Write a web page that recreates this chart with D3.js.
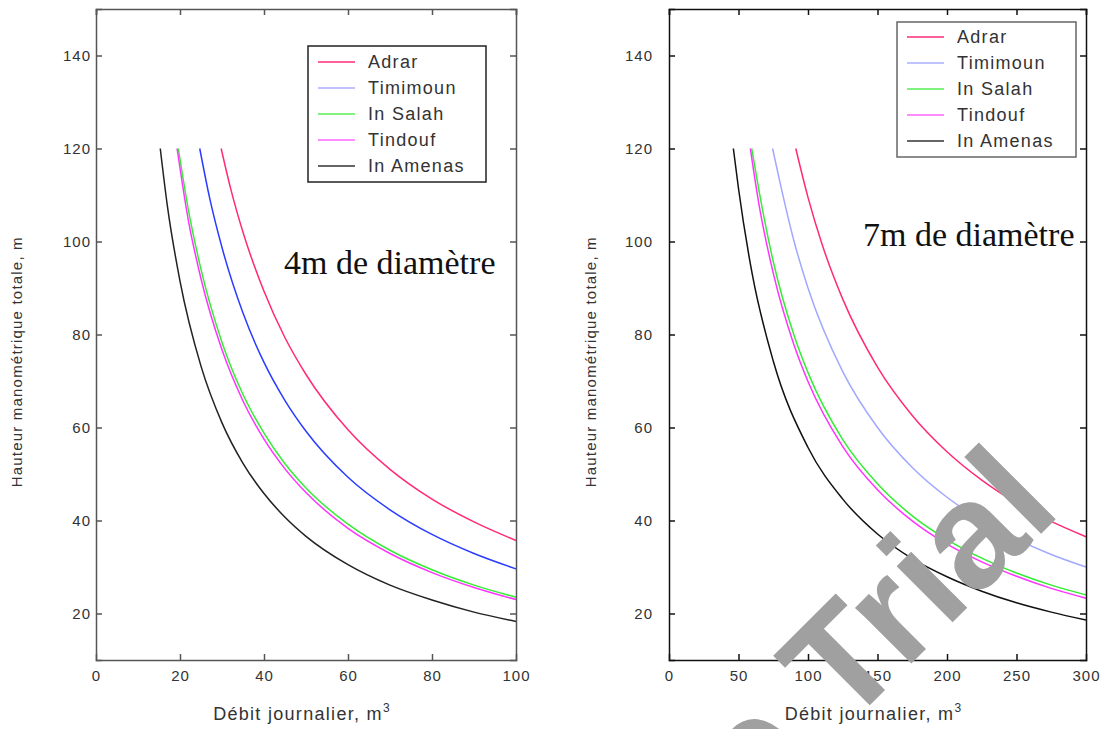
<!DOCTYPE html>
<html><head><meta charset="utf-8">
<script src="https://cdn.jsdelivr.net/npm/d3@7"></script>
<style>body{margin:0;background:#fff}svg{display:block}</style>
</head><body><svg id="c" width="1105" height="729"></svg>
<script>
// ---------- data ----------
const seriesNames = ["Adrar", "Timimoun", "In Salah", "Tindouf", "In Amenas"];
const xTicksLeft = [0, 20, 40, 60, 80, 100];
const xTicksRight = [0, 50, 100, 150, 200, 250, 300];
const yTicks = [20, 40, 60, 80, 100, 120, 140];
const labelLeft = "4m de diamètre";
const labelRight = "7m de diamètre";

// 4 m diameter panel: daily flow (m3) and total head (m)
const q4Adrar    = [29.8, 32, 35, 40, 45, 50, 60, 70, 80, 90, 100];
const h4Adrar    = [120, 111.6, 102.0, 89.3, 79.3, 71.4, 59.5, 51.0, 44.6, 39.7, 35.7];
const q4Timimoun = [24.7, 27, 30, 35, 40, 45, 50, 60, 70, 80, 90, 100];
const h4Timimoun = [120, 109.6, 98.7, 84.6, 74.0, 65.8, 59.2, 49.3, 42.3, 37.0, 32.9, 29.6];
const q4InSalah  = [19.6, 22, 25, 30, 35, 40, 45, 50, 60, 70, 80, 90, 100];
const h4InSalah  = [120, 106.8, 94.0, 78.3, 67.1, 58.8, 52.2, 47.0, 39.2, 33.6, 29.4, 26.1, 23.5];
const q4Tindouf  = [19.3, 22, 25, 30, 35, 40, 45, 50, 60, 70, 80, 90, 100];
const h4Tindouf  = [120, 104.5, 92.0, 76.7, 65.7, 57.5, 51.1, 46.0, 38.3, 32.9, 28.8, 25.6, 23.0];
const q4InAmenas = [15.3, 17, 20, 25, 30, 35, 40, 45, 50, 60, 70, 80, 90, 100];
const h4InAmenas = [120, 107.6, 91.5, 73.2, 61.0, 52.3, 45.8, 40.7, 36.6, 30.5, 26.1, 22.9, 20.3, 18.3];

// 7 m diameter panel
const q7Adrar    = [91.2, 100, 110, 125, 150, 175, 200, 225, 250, 275, 300];
const h7Adrar    = [120, 109.5, 99.5, 87.6, 73.0, 62.6, 54.8, 48.7, 43.8, 39.8, 36.5];
const q7Timimoun = [74.5, 80, 90, 100, 125, 150, 175, 200, 225, 250, 275, 300];
const h7Timimoun = [120, 112.5, 100.0, 90.0, 72.0, 60.0, 51.4, 45.0, 40.0, 36.0, 32.7, 30.0];
const q7InSalah  = [59.5, 65, 75, 90, 100, 125, 150, 175, 200, 225, 250, 275, 300];
const h7InSalah  = [120, 110.5, 95.7, 79.8, 71.8, 57.4, 47.9, 41.0, 35.9, 31.9, 28.7, 26.1, 24.0];
const q7Tindouf  = [58.5, 65, 75, 90, 100, 125, 150, 175, 200, 225, 250, 275, 300];
const h7Tindouf  = [120, 107.5, 93.2, 77.7, 69.9, 55.9, 46.6, 39.9, 34.9, 31.1, 28.0, 25.4, 23.3];
const q7InAmenas = [46.3, 50, 60, 75, 100, 125, 150, 175, 200, 225, 250, 275, 300];
const h7InAmenas = [120, 111.4, 92.8, 74.3, 55.7, 44.6, 37.1, 31.8, 27.9, 24.8, 22.3, 20.3, 18.6];

// ---------- drawing ----------
const svg = d3.select("#c");
const sansFont = "'Liberation Sans', Arial, sans-serif";
const legendColors = ["#ff2a78", "#aab0ff", "#55ee55", "#ff66ff", "#333333"];

const panels = [
  { x0: 96, x1: 516, xmax: 100, xTicks: xTicksLeft, axisColor: "#555", labelGap: 5,
    legend: { x: 308, y: 46, w: 178, h: 136, first: 16, border: "#222" },
    note: { text: labelLeft, x: 284, y: 274 },
    ytitleX: 22,
    colors: ["#ff2a78", "#2a3cff", "#33ee33", "#ff33ff", "#222222"],
    q: [q4Adrar, q4Timimoun, q4InSalah, q4Tindouf, q4InAmenas],
    h: [h4Adrar, h4Timimoun, h4InSalah, h4Tindouf, h4InAmenas] },
  { x0: 669, x1: 1086, xmax: 300, xTicks: xTicksRight, axisColor: "#111", labelGap: 16,
    legend: { x: 897, y: 22, w: 179, h: 135, first: 15, border: "#666" },
    note: { text: labelRight, x: 863, y: 246 },
    ytitleX: 596,
    colors: ["#ff2a78", "#a0a8ff", "#33ee33", "#ff33ff", "#111111"],
    q: [q7Adrar, q7Timimoun, q7InSalah, q7Tindouf, q7InAmenas],
    h: [h7Adrar, h7Timimoun, h7InSalah, h7Tindouf, h7InAmenas] }
];

const yTop = 9, yBot = 660;

panels.forEach(p => {
  const x = d3.scaleLinear().domain([0, p.xmax]).range([p.x0, p.x1]);
  const y = d3.scaleLinear().domain([10, 150]).range([yBot, yTop]);
  const g = svg.append("g");

  // curves
  const line = d3.line().x(d => x(d[0])).y(d => y(d[1])).curve(d3.curveMonotoneX);
  seriesNames.forEach((name, i) => {
    const pts = p.q[i].map((qv, j) => [qv, p.h[i][j]]);
    g.append("path").attr("d", line(pts)).attr("fill", "none")
      .attr("stroke", p.colors[i]).attr("stroke-width", 1.5);
  });

  // axes (ticks inward, mirrored)
  const bottom = d3.axisBottom(x).tickValues(p.xTicks).tickSize(-6).tickPadding(10).tickFormat(d3.format("d"));
  const top = d3.axisTop(x).tickValues(p.xTicks).tickSize(-6).tickFormat("");
  const left = d3.axisLeft(y).tickValues(yTicks).tickSize(-6).tickPadding(p.labelGap).tickFormat(d3.format("d"));
  const right = d3.axisRight(y).tickValues(yTicks).tickSize(-6).tickFormat("");
  const axes = [
    g.append("g").attr("transform", `translate(0,${yBot})`).call(bottom),
    g.append("g").attr("transform", `translate(0,${yTop})`).call(top),
    g.append("g").attr("transform", `translate(${p.x0},0)`).call(left),
    g.append("g").attr("transform", `translate(${p.x1},0)`).call(right)
  ];
  axes.forEach(a => {
    a.select(".domain").attr("stroke", p.axisColor).attr("stroke-width", 1.5);
    a.selectAll(".tick line").attr("stroke", p.axisColor).attr("stroke-width", 1.5);
    a.selectAll(".tick text").attr("fill", "#333").attr("font-family", sansFont)
      .attr("font-size", 15).attr("letter-spacing", "1px");
  });
  axes[0].selectAll(".tick line").filter(d => d === 0 || d === p.xmax).remove();

  // axis titles
  const xt = g.append("text").attr("x", (p.x0 + p.x1) / 2 - 4).attr("y", 720)
    .attr("text-anchor", "middle").attr("font-family", sansFont).attr("font-size", 18)
    .attr("letter-spacing", "1.3px").attr("fill", "#333");
  xt.append("tspan").text("Débit journalier,  m");
  xt.append("tspan").attr("font-size", 12).attr("dy", -8).text("3");

  g.append("text").attr("transform", `translate(${p.ytitleX},${(y(70) + y(80)) / 2 + 4}) rotate(-90)`)
    .attr("text-anchor", "middle").attr("font-family", sansFont).attr("font-size", 15)
    .attr("letter-spacing", "1.2px").attr("fill", "#333")
    .text("Hauteur manométrique totale,  m");

  // legend
  const L = p.legend;
  const lg = g.append("g").attr("transform", `translate(${L.x},${L.y})`);
  lg.append("rect").attr("width", L.w).attr("height", L.h).attr("fill", "#fff")
    .attr("stroke", L.border).attr("stroke-width", 1.5);
  seriesNames.forEach((name, i) => {
    const yy = L.first + i * 26;
    lg.append("line").attr("x1", 10).attr("x2", 47).attr("y1", yy).attr("y2", yy)
      .attr("stroke", legendColors[i]).attr("stroke-width", 1.5);
    lg.append("text").attr("x", 60).attr("y", yy).attr("dy", "0.35em")
      .attr("font-family", sansFont).attr("font-size", 18).attr("letter-spacing", "1.3px")
      .attr("fill", "#333").text(name);
  });

  // panel annotation
  g.append("text").attr("x", p.note.x).attr("y", p.note.y)
    .attr("font-family", "'Liberation Serif', 'Times New Roman', serif")
    .attr("font-size", 34).attr("fill", "#111").text(p.note.text);
});

// watermark
const wm = svg.append("g").attr("transform", "translate(845,730) rotate(-45)")
  .attr("font-family", sansFont).attr("font-weight", "bold").attr("font-size", 150).attr("fill", "#a0a0a0");
wm.append("text").attr("x", 0).attr("y", 0).text("Trial");
wm.append("text").attr("x", -40).attr("y", 0).attr("text-anchor", "end").text("e");
</script>
</body></html>
